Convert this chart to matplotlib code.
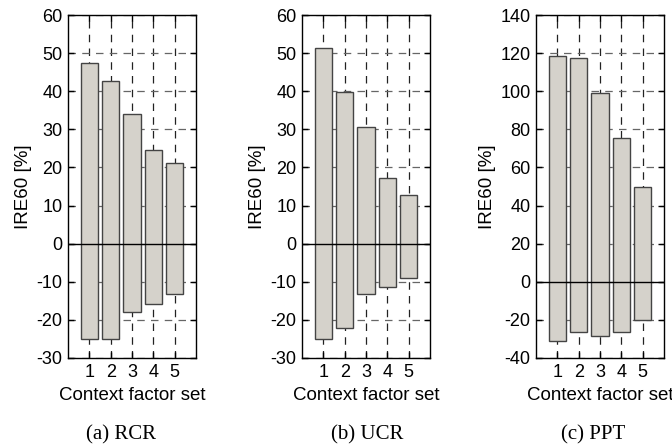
import matplotlib
matplotlib.use('Agg')
import matplotlib.pyplot as plt

plt.rcParams['font.family'] = ['Liberation Sans', 'DejaVu Sans']
plt.rcParams['axes.unicode_minus'] = False

# context factor sets on the x axis
sets = [1, 2, 3, 4, 5]

# IRE60 range per set: (low, high) in percent
rcr_low = [-25.0, -25.0, -17.9, -15.7, -13.3]
rcr_high = [47.4, 42.7, 34.0, 24.7, 21.2]
ucr_low = [-24.9, -22.0, -13.1, -11.5, -9.1]
ucr_high = [51.3, 39.9, 30.7, 17.1, 12.9]
ppt_low = [-30.9, -26.6, -28.7, -26.6, -20.1]
ppt_high = [118.5, 117.5, 99.0, 75.2, 49.5]

captions = ['(a) RCR', '(b) UCR', '(c) PPT']
ylims = [(-30, 60), (-30, 60), (-40, 140)]
ysteps = [10, 10, 20]
lows = [rcr_low, ucr_low, ppt_low]
highs = [rcr_high, ucr_high, ppt_high]

fig = plt.figure(figsize=(6.72, 4.46), dpi=100)
lefts = [68 / 672, 302 / 672, 536 / 672]
cap_x = [121 / 672, 367 / 672, 593 / 672]

for i in range(3):
    ax = fig.add_axes([lefts[i], 88 / 446, 128 / 672, 343 / 446])
    lo, hi = lows[i], highs[i]
    heights = [h - l for h, l in zip(hi, lo)]
    ax.bar(sets, heights, bottom=lo, width=0.8, color='#d5d2cb',
           edgecolor='#444444', linewidth=1.0, zorder=2)
    ax.axhline(0, color='black', linewidth=1.0, zorder=3)
    ymin, ymax = ylims[i]
    ax.set_xlim(0, 6)
    ax.set_ylim(ymin, ymax)
    ax.set_xticks(sets)
    ax.set_yticks(range(ymin, ymax + 1, ysteps[i]))
    ax.xaxis.grid(True, linestyle=(0, (6, 5)), color='#222222', linewidth=0.9, zorder=0)
    ax.yaxis.grid(True, linestyle=(0, (6, 5)), color='#666666', linewidth=0.9, zorder=0)
    ax.set_axisbelow(True)
    ax.tick_params(direction='in', top=True, right=True, labelsize=13,
                   length=4, width=1, pad=4)
    for sp in ax.spines.values():
        sp.set_linewidth(1.0)
    ax.set_xlabel('Context factor set', fontsize=13.5, labelpad=5)
    ax.set_ylabel('IRE60 [%]', fontsize=13.5, labelpad=3)
    fig.text(cap_x[i], 1 - 435 / 446, captions[i], ha='center', va='center',
             fontsize=15, family='Liberation Serif')

fig.savefig('out.png', dpi=100)
